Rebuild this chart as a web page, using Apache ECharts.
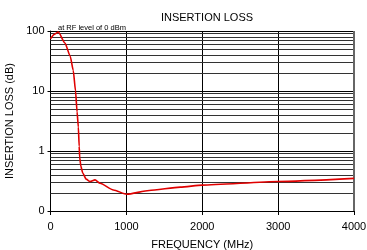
<!DOCTYPE html>
<html><head><meta charset="utf-8">
<script src="https://cdn.jsdelivr.net/npm/echarts@6/dist/echarts.min.js"></script>
<style>html,body{margin:0;padding:0;background:#fff}#c{width:367px;height:250px}</style>
</head><body><div id="c"></div>
<script>
var freq = [0, 50, 103, 191, 260, 300, 330, 350, 367, 378, 385, 400, 425, 470, 520, 587, 653, 829, 1005, 1300, 1711, 2000, 3000, 4000];
var loss = [74, 88, 96, 63, 38, 22, 10, 4.5, 2.5, 1.2, 0.78, 0.56, 0.43, 0.34, 0.31, 0.33, 0.29, 0.224, 0.19, 0.22, 0.25, 0.27, 0.31, 0.35];
var minorLines = [0.2,0.3,0.4,0.5,0.6,0.7,0.8,0.9,2,3,4,5,6,7,8,9,20,30,40,50,60,70,80,90];
var xTicks = [0, 1000, 2000, 3000, 4000];

var chart = echarts.init(document.getElementById('c'), null, {renderer:'canvas'});
var font = 'Liberation Sans, Arial, sans-serif';
chart.setOption({
  animation:false,
  title:[
    {text:'INSERTION LOSS', left:202, top:7, textAlign:'center', textStyle:{fontFamily:font, fontSize:11, fontWeight:'normal', color:'#000'}},
    {text:'at RF level of 0 dBm', left:53, top:19, textStyle:{fontFamily:font, fontSize:7.5, fontWeight:'normal', color:'#000'}}
  ],
  grid:{left:50.5, right:13, top:31, bottom:39, containLabel:false, outerBoundsMode:'none'},
  xAxis:{type:'value', min:0, max:4000, interval:1000,
    name:'FREQUENCY (MHz)', nameLocation:'middle', nameGap:28,
    nameTextStyle:{fontFamily:font, fontSize:11, color:'#000'},
    axisLine:{lineStyle:{color:'#000', width:1}},
    axisTick:{show:true, length:4, lineStyle:{color:'#000'}},
    axisLabel:{fontFamily:font, fontSize:11, color:'#000', margin:10,
      formatter:function(v){ return String(v); }},
    splitLine:{show:true, lineStyle:{color:'#000', width:1}}
  },
  yAxis:{type:'log', min:0.1, max:100, logBase:10,
    name:'INSERTION LOSS (dB)', nameLocation:'middle', nameGap:34,
    nameTextStyle:{fontFamily:font, fontSize:11, color:'#000'},
    axisLine:{show:true, lineStyle:{color:'#000', width:1}},
    axisTick:{show:true, length:3, lineStyle:{color:'#000'}},
    axisLabel:{fontFamily:font, fontSize:11, color:'#000', margin:6,
      formatter:function(v){ return v < 1 ? '0' : String(Math.round(v)); }},
    splitLine:{show:true, lineStyle:{color:'#000', width:1}}
  },
  series:[{
    type:'line', data:freq.map(function(f,i){return [f, loss[i]];}),
    smooth:0.2, smoothMonotone:'x', showSymbol:false, symbol:'none',
    lineStyle:{color:'#e00000', width:1.6},
    markLine:{silent:true, symbol:'none', label:{show:false}, animation:false,
      lineStyle:{color:'#333', width:1, type:'solid'},
      data:minorLines.map(function(v){return {yAxis:v};})
    },
    z:5
  },{
    type:'line', data:[], markLine:{silent:true, symbol:'none', label:{show:false},
      lineStyle:{color:'#666', width:2, type:'solid'},
      data:[{xAxis:4000}]}
  }]
});
</script></body></html>
